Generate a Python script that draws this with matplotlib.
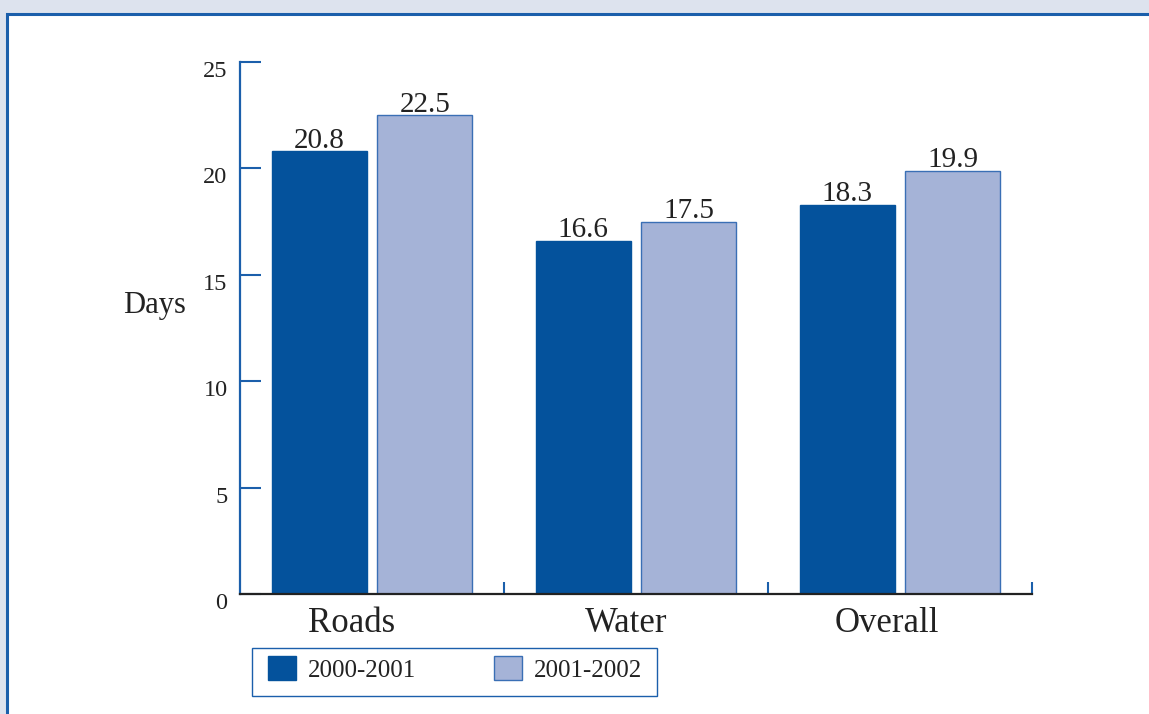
import matplotlib

matplotlib.use("Agg")
import matplotlib.pyplot as plt
from matplotlib.patches import Rectangle
from matplotlib.transforms import ScaledTranslation
import numpy as np

categories = ["Roads", "Water", "Overall"]
series_names = ["2000-2001", "2001-2002"]
values_2000 = [20.8, 16.6, 18.3]
values_2001 = [22.5, 17.5, 19.9]
y_ticks = [0, 5, 10, 15, 20, 25]

DARK = "#04529c"
LIGHT = "#a5b3d7"
EDGE = "#3a6fb5"
FRAME = "#1b5fab"
BACK = "#dde3ee"
TEXT = "#222222"

plt.rcParams["font.family"] = ["Liberation Serif", "DejaVu Serif"]

fig = plt.figure(figsize=(11.49, 7.14), dpi=100, facecolor=BACK)

# white panel with blue border on top and left
fig.patches.append(Rectangle((7 / 1149, -0.1), 1.2, 1.1 - 14 / 714,
                             transform=fig.transFigure, facecolor="white",
                             edgecolor=FRAME, linewidth=2.2, zorder=-2))

ax = fig.add_axes([240 / 1149, 120 / 714, 792 / 1149, 532 / 714])
ax.set_facecolor("none")

x = np.arange(len(categories))
width = 0.36
offset = 0.2
b1 = ax.bar(x - offset, values_2000, width, color=DARK, edgecolor=DARK,
            linewidth=1, label=series_names[0], zorder=2)
b2 = ax.bar(x + offset, values_2001, width, color=LIGHT, edgecolor=EDGE,
            linewidth=1, label=series_names[1], zorder=2)

for bars, vals in ((b1, values_2000), (b2, values_2001)):
    for rect, v in zip(bars, vals):
        ax.annotate(f"{v:.1f}", (rect.get_x() + rect.get_width() / 2, v),
                    xytext=(0, 2.5), textcoords="offset points",
                    ha="center", va="baseline", fontsize=21, color=TEXT)

ax.set_xlim(-0.5, 2.5)
ax.set_ylim(0, 25)

for side in ("top", "right"):
    ax.spines[side].set_visible(False)
ax.spines["left"].set_color(FRAME)
ax.spines["left"].set_linewidth(1.6)
ax.spines["bottom"].set_color(TEXT)
ax.spines["bottom"].set_linewidth(1.6)

ax.set_yticks(y_ticks)
ax.tick_params(axis="y", direction="in", length=15, width=1.5, color=FRAME,
               labelsize=17.5, labelcolor=TEXT, pad=9)
off = ScaledTranslation(0, -7 / 100, fig.dpi_scale_trans)
for lab in ax.get_yticklabels():
    lab.set_transform(lab.get_transform() + off)

ax.set_xticks(x)
ax.set_xticklabels(categories)
ax.tick_params(axis="x", which="major", length=0, labelsize=25,
               labelcolor=TEXT, pad=9)
# category names sit a little left of the group centres
for lab, dx in zip(ax.get_xticklabels(), [-20, -10, -13]):
    lab.set_transform(lab.get_transform()
                      + ScaledTranslation(dx / 100, 0, fig.dpi_scale_trans))
ax.set_xticks([0.5, 1.5, 2.5], minor=True)
ax.tick_params(axis="x", which="minor", direction="in", length=9, width=1.5,
               color=FRAME)
ax.xaxis.get_minor_ticks()[2].tick1line.set_color(TEXT)

fig.text(155 / 1149, 1 - 305 / 714, "Days", ha="center", va="center",
         fontsize=22, color=TEXT)

# legend box drawn separately so its padding can be set in pixels
fig.patches.append(Rectangle((252 / 1149, 1 - 696 / 714), 405 / 1149, 48 / 714,
                             transform=fig.transFigure, facecolor="white",
                             edgecolor=FRAME, linewidth=1, zorder=-1))
leg = fig.legend(handles=[b1, b2], loc="upper left",
                 bbox_to_anchor=(268 / 1149, 1 - 656 / 714), ncol=2,
                 frameon=False, fontsize=18,
                 handlelength=1.12, handleheight=1.12, handletextpad=0.48,
                 columnspacing=3.1, borderpad=0, borderaxespad=0)
for t in leg.get_texts():
    t.set_color(TEXT)

fig.savefig("out.png", dpi=100, facecolor=BACK)
